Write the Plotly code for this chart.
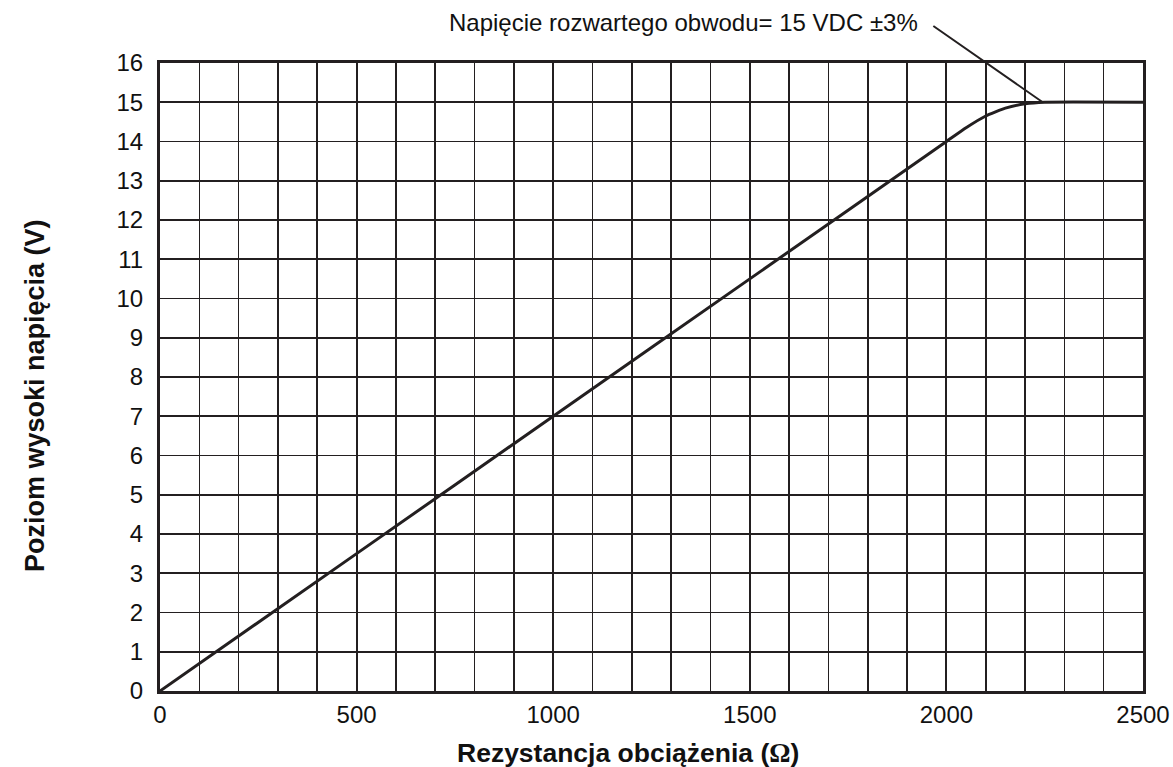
import plotly.graph_objects as go

# Data
resistance = [0, 500, 1000, 1500, 2000, 2050, 2100, 2150, 2200, 2250, 2500]
voltage = [0, 3.5, 7.0, 10.5, 14.0, 14.35, 14.65, 14.85, 14.96, 15.0, 15.0]

x_ticks = [0, 500, 1000, 1500, 2000, 2500]
y_ticks = list(range(0, 17))

note_text = "Napięcie rozwartego obwodu= 15 VDC ±3%"
note_x = 2245
note_y = 15
note_tail_x = 1963
note_tail_y = 16.97

x_title = "Rezystancja obciążenia (<span style='font-family:Liberation Serif'>Ω</span>)"
y_title = "Poziom wysoki napięcia (V)"

FONT = "Liberation Sans, Arial, Helvetica, sans-serif"
INK = "#231f20"

fig = go.Figure()
fig.add_trace(go.Scatter(
    x=resistance, y=voltage, mode="lines",
    line=dict(color=INK, width=3, shape="spline", smoothing=0.4),
    hoverinfo="skip", showlegend=False,
))

fig.update_layout(
    width=1173, height=767,
    margin=dict(l=160, r=30, t=63, b=76),
    paper_bgcolor="white", plot_bgcolor="white",
    font=dict(family=FONT, size=24, color="#111"),
    showlegend=False,
)

fig.update_xaxes(
    range=[0, 2500], tickvals=x_ticks, ticktext=[str(v) for v in x_ticks],
    showgrid=True, gridcolor=INK, gridwidth=2,
    minor=dict(dtick=100, showgrid=True, gridcolor=INK, gridwidth=1.6),
    showline=True, linecolor=INK, linewidth=3, mirror=True,
    ticks="", ticklabelstandoff=0, zeroline=False, automargin=False,
)
fig.update_yaxes(
    range=[0, 16], tickvals=y_ticks, ticktext=[str(v) for v in y_ticks],
    showgrid=True, gridcolor=INK, gridwidth=1.6,
    showline=True, linecolor=INK, linewidth=3, mirror=True,
    ticks="", ticklabelstandoff=9, zeroline=False, automargin=False,
)

# axis titles
fig.add_annotation(
    x=0.476, y=-0.099, xref="paper", yref="paper", text=x_title,
    showarrow=False, xanchor="center", yanchor="middle",
    font=dict(size=26.5, family=FONT, weight="bold", color="#111"),
)
fig.add_annotation(
    x=-0.127, y=0.470, xref="paper", yref="paper", text=y_title,
    showarrow=False, xanchor="center", yanchor="middle", textangle=-90,
    font=dict(size=27, family=FONT, weight="bold", color="#111"),
)

# leader line from the note to the curve
fig.add_annotation(
    x=note_x, y=note_y, xref="x", yref="y",
    ax=note_tail_x, ay=note_tail_y, axref="x", ayref="y",
    text="", showarrow=True, arrowhead=0, arrowwidth=2, arrowcolor=INK,
)
fig.add_annotation(
    x=0.773, y=1.065, xref="paper", yref="paper",
    text=note_text, showarrow=False, xanchor="right", yanchor="middle",
    font=dict(size=24, family=FONT, color="#111"),
)

fig.write_html(
    "out.html",
    config={"displayModeBar": False, "staticPlot": True},
    post_script="document.body.style.margin='0';document.body.style.overflow='hidden';",
)
